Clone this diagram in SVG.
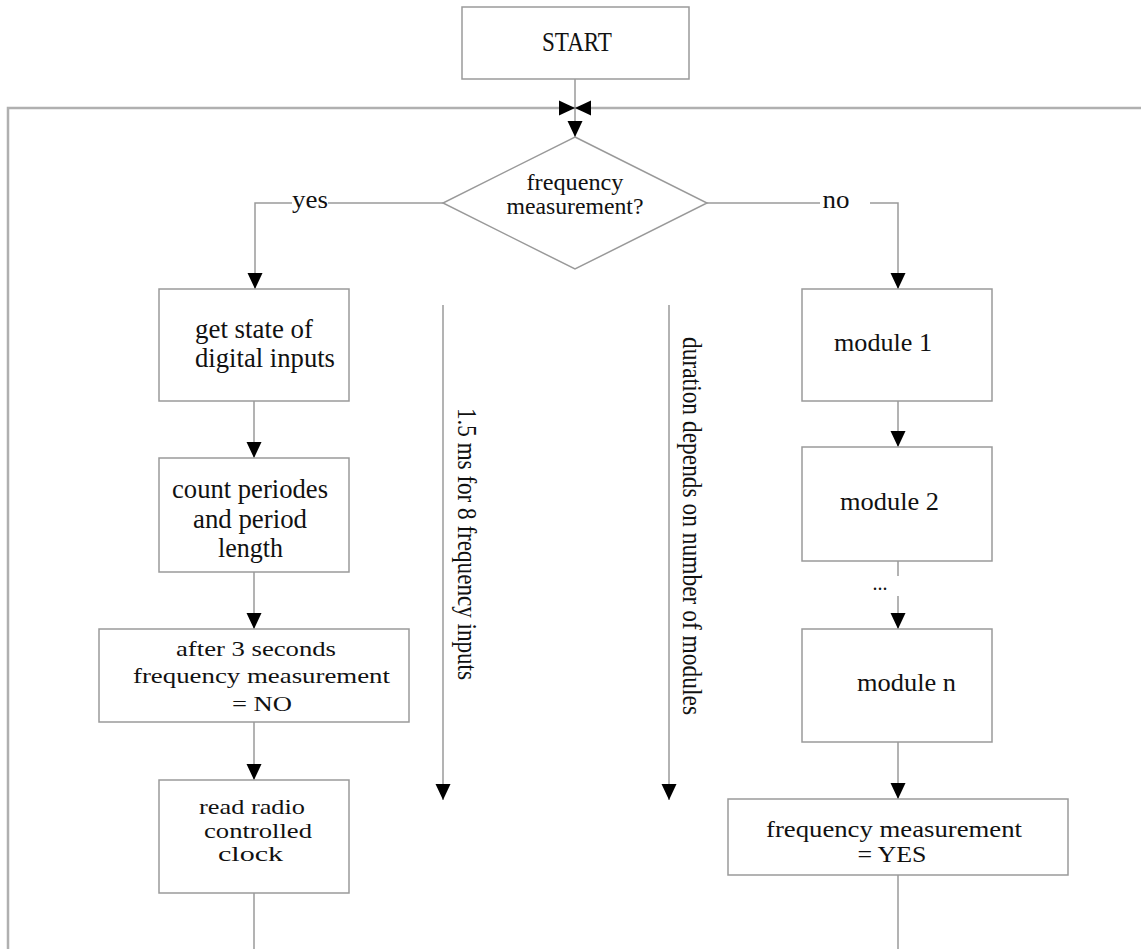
<svg xmlns="http://www.w3.org/2000/svg" width="1141" height="949" viewBox="0 0 1141 949">
<style>
.box{fill:#fff;stroke:#9a9a9a;stroke-width:1.5}
.ln{fill:none;stroke:#9a9a9a;stroke-width:1.5}
.frame{fill:none;stroke:#b0b0b0;stroke-width:2.5}
.t{font-family:"Liberation Serif","Times New Roman",serif;font-size:22px;fill:#111;text-anchor:middle}
.r{font-family:"Liberation Serif","Times New Roman",serif;font-size:23px;fill:#111}
</style>
<defs>
<marker id="arr" markerUnits="userSpaceOnUse" markerWidth="16" markerHeight="16" viewBox="0 0 16 16" refX="16" refY="8" orient="auto">
<path d="M0,0.5 L16,8 L0,15.5 z" fill="#000"/>
</marker>
</defs>
<rect width="1141" height="949" fill="#fff"/>
<g id="connectors">
<path class="frame" d="M1141,108 H8 V949"/>
<path class="ln" d="M575,79 V137" marker-end="url(#arr)"/>
<path class="ln" d="M559,108 H575" marker-end="url(#arr)"/>
<path class="ln" d="M591,108 H575" marker-end="url(#arr)"/>
<path class="ln" d="M443,203 H328 M292,203 H255 V289" marker-end="url(#arr)"/>
<path class="ln" d="M707,203 H820 M870,203 H898 V289" marker-end="url(#arr)"/>
<path class="ln" d="M254,401 V458" marker-end="url(#arr)"/>
<path class="ln" d="M254,572 V629" marker-end="url(#arr)"/>
<path class="ln" d="M254,722 V780" marker-end="url(#arr)"/>
<path class="ln" d="M254,893 V949"/>
<path class="ln" d="M898,401 V447" marker-end="url(#arr)"/>
<path class="ln" d="M898,561 V576"/>
<path class="ln" d="M898,596 V629" marker-end="url(#arr)"/>
<path class="ln" d="M898,742 V799" marker-end="url(#arr)"/>
<path class="ln" d="M898,875 V949"/>
<path class="ln" d="M443,305 V800" marker-end="url(#arr)"/>
<path class="ln" d="M669,305 V800" marker-end="url(#arr)"/>
<text class="t" x="310" y="208" style="font-size:26px" textLength="36" lengthAdjust="spacingAndGlyphs">yes</text>
<text class="t" x="836" y="208" style="font-size:26px" textLength="27" lengthAdjust="spacingAndGlyphs">no</text>
<text class="t" x="880" y="590" textLength="15" lengthAdjust="spacingAndGlyphs">...</text>
<text class="r" transform="translate(458,408) rotate(90) scale(1,1.22)" x="0" y="0" textLength="272" lengthAdjust="spacingAndGlyphs">1.5 ms for 8 frequency inputs</text>
<text class="r" transform="translate(683,337) rotate(90) scale(1,1.22)" x="0" y="0" textLength="378" lengthAdjust="spacingAndGlyphs">duration depends on number of modules</text>
</g>
<g id="start">
<rect class="box" x="462" y="7" width="227" height="72"/>
<text class="t" x="577" y="51" style="font-size:27px" textLength="70" lengthAdjust="spacingAndGlyphs">START</text>
</g>
<g id="decision">
<polygon class="box" points="575,137 707,203 575,269 443,203"/>
<text class="t" x="575" y="190" style="font-size:24px" textLength="97" lengthAdjust="spacingAndGlyphs">frequency</text>
<text class="t" x="575" y="214" style="font-size:24px" textLength="137" lengthAdjust="spacingAndGlyphs">measurement?</text>
</g>
<g id="get-state">
<rect class="box" x="159" y="289" width="190" height="112"/>
<text class="t" x="254" y="338" style="font-size:27px" textLength="118" lengthAdjust="spacingAndGlyphs">get state of</text>
<text class="t" x="265" y="367" style="font-size:27px" textLength="140" lengthAdjust="spacingAndGlyphs">digital inputs</text>
</g>
<g id="count">
<rect class="box" x="159" y="458" width="190" height="114"/>
<text class="t" x="250" y="498" style="font-size:27px" textLength="156" lengthAdjust="spacingAndGlyphs">count periodes</text>
<text class="t" x="250" y="528" style="font-size:27px" textLength="114" lengthAdjust="spacingAndGlyphs">and period</text>
<text class="t" x="250.5" y="557" style="font-size:27px" textLength="65" lengthAdjust="spacingAndGlyphs">length</text>
</g>
<g id="after3">
<rect class="box" x="99" y="629" width="310" height="93"/>
<text class="t" x="256" y="656" style="font-size:22px" textLength="160" lengthAdjust="spacingAndGlyphs">after 3 seconds</text>
<text class="t" x="261.5" y="683" style="font-size:22px" textLength="257" lengthAdjust="spacingAndGlyphs">frequency measurement</text>
<text class="t" x="262" y="711" style="font-size:22px" textLength="60" lengthAdjust="spacingAndGlyphs">= NO</text>
</g>
<g id="radio">
<rect class="box" x="159" y="780" width="190" height="113"/>
<text class="t" x="252" y="814" style="font-size:22px" textLength="106" lengthAdjust="spacingAndGlyphs">read radio</text>
<text class="t" x="258" y="838" style="font-size:22px" textLength="108" lengthAdjust="spacingAndGlyphs">controlled</text>
<text class="t" x="250.5" y="861" style="font-size:22px" textLength="65" lengthAdjust="spacingAndGlyphs">clock</text>
</g>
<g id="module1">
<rect class="box" x="802" y="289" width="190" height="112"/>
<text class="t" x="883" y="351" style="font-size:26px" textLength="98" lengthAdjust="spacingAndGlyphs">module 1</text>
</g>
<g id="module2">
<rect class="box" x="802" y="447" width="190" height="114"/>
<text class="t" x="889.5" y="510" style="font-size:26px" textLength="99" lengthAdjust="spacingAndGlyphs">module 2</text>
</g>
<g id="modulen">
<rect class="box" x="802" y="629" width="190" height="113"/>
<text class="t" x="906.5" y="691" style="font-size:26px" textLength="99" lengthAdjust="spacingAndGlyphs">module n</text>
</g>
<g id="freq-yes">
<rect class="box" x="728" y="799" width="340" height="76"/>
<text class="t" x="894" y="837" style="font-size:23px" textLength="256" lengthAdjust="spacingAndGlyphs">frequency measurement</text>
<text class="t" x="892" y="862" style="font-size:23px" textLength="69" lengthAdjust="spacingAndGlyphs">= YES</text>
</g>
</svg>
